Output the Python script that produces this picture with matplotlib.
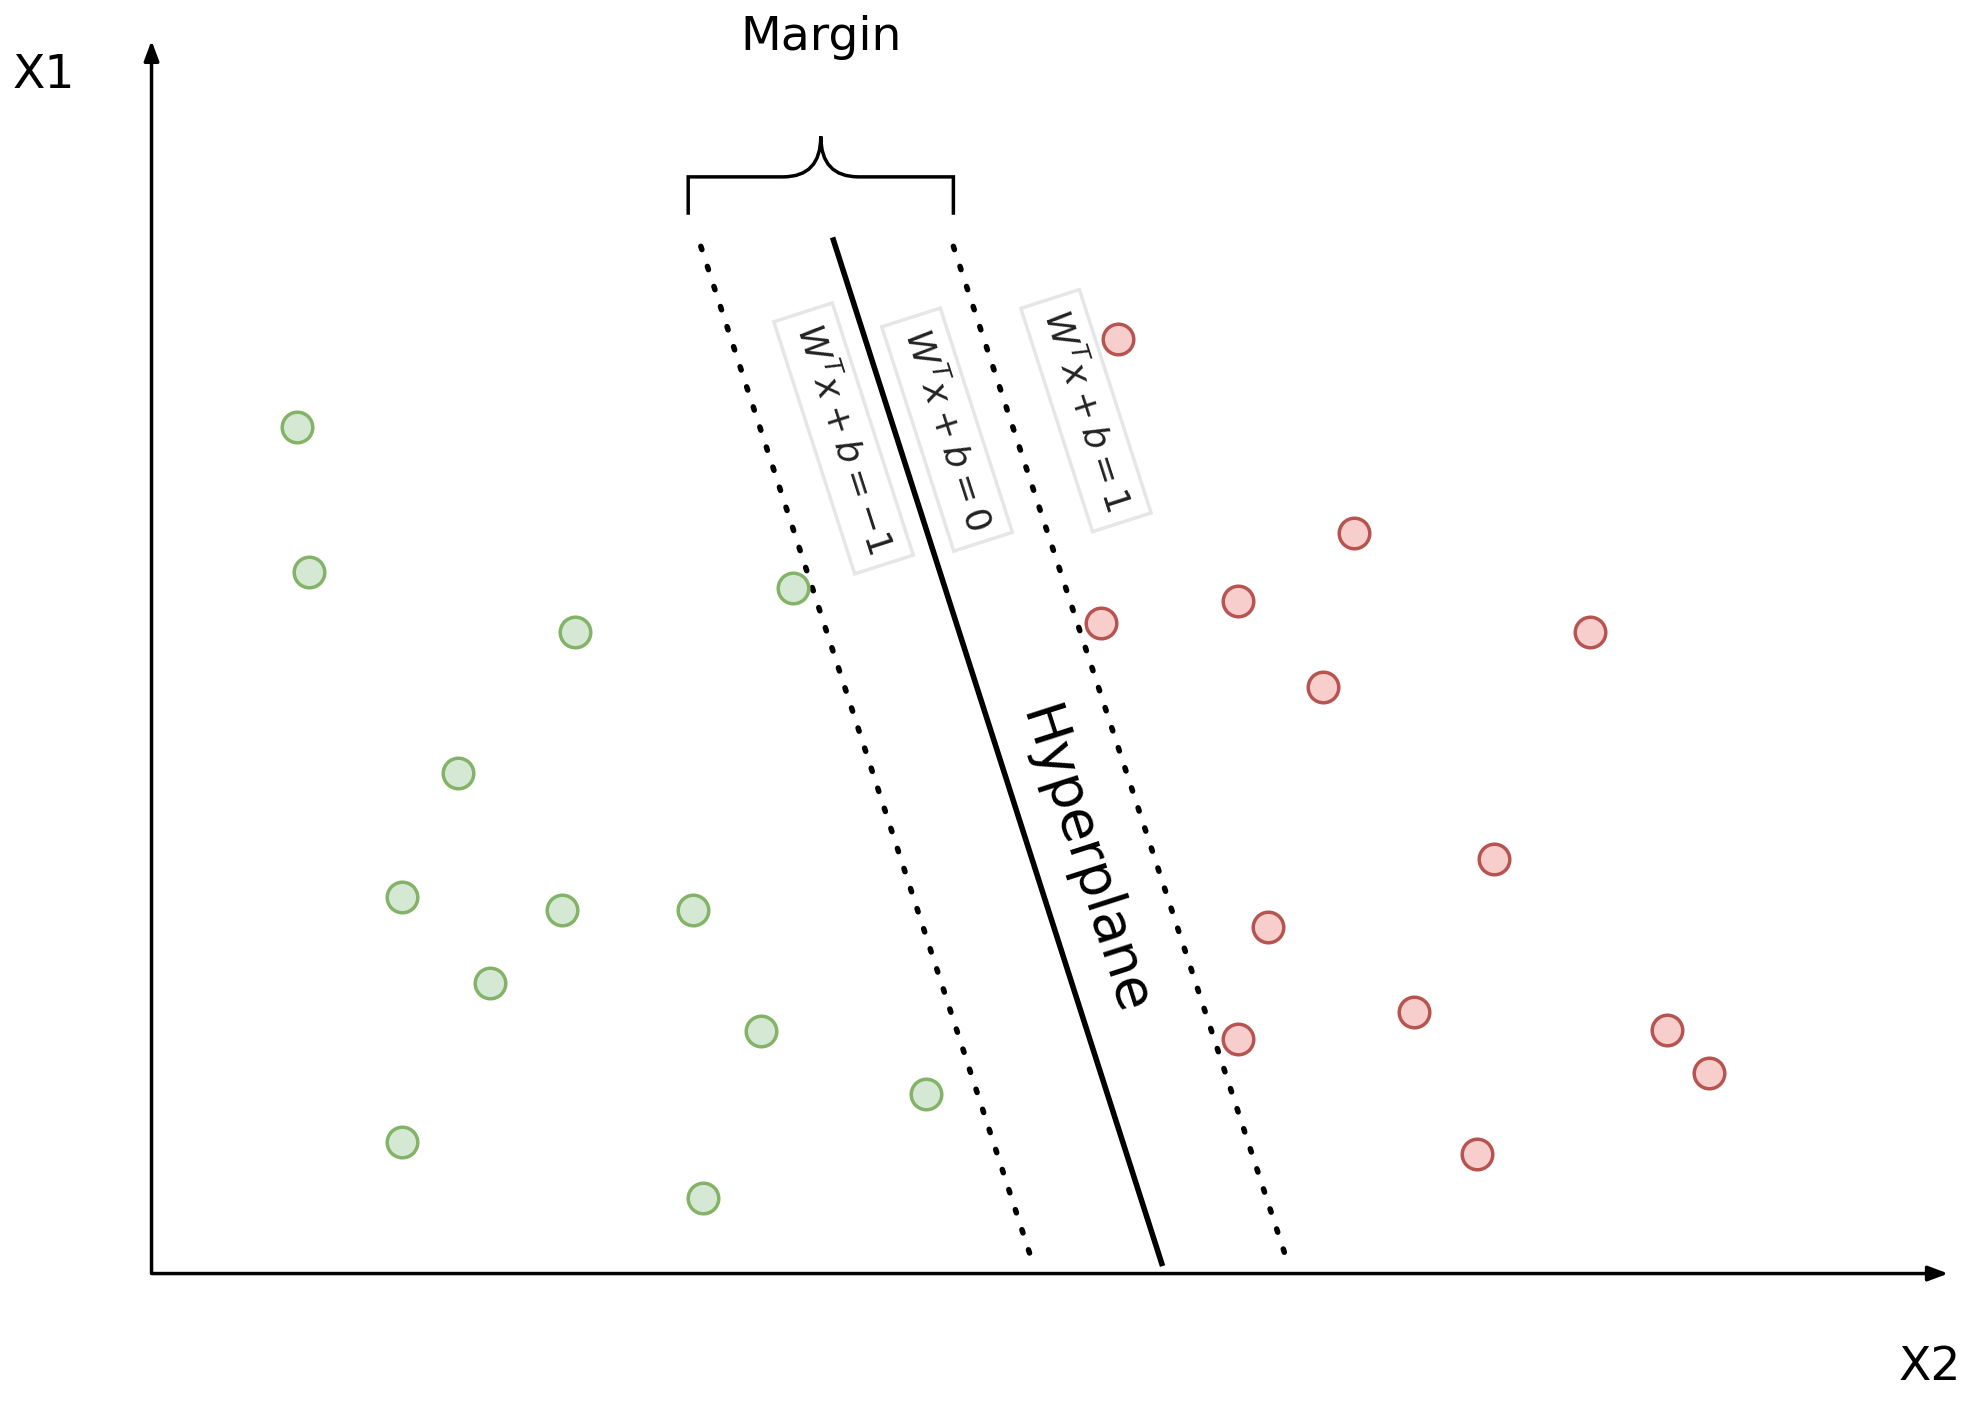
"""SVM margin diagram."""

import matplotlib.pyplot as plt
from matplotlib.path import Path
from matplotlib.patches import PathPatch

# point coordinates (pixel space, y downwards)
green_x = [235, 245, 455, 628, 363, 318, 445, 549, 388, 603, 733, 318, 557]
green_y = [338, 453, 500, 465, 612, 710, 720, 720, 778, 816, 866, 904, 948]
red_x = [885, 1072, 872, 980, 1048, 1259, 1183, 1004, 1120, 980, 1320, 1353, 1170]
red_y = [268, 422, 493, 476, 544, 500, 680, 734, 801, 822, 815, 849, 913]

# margin lines: (x_top, y_top, x_bottom, y_bottom)
lower_line = (555, 195, 818, 1000)
hyper_line = (660, 190, 920, 1000)
upper_line = (755, 195, 1020, 1000)
eq_labels = ["$W^T x + b = -1$", "$W^T x + b = 0$", "$W^T x + b = 1$"]
eq_pos = [(668, 347), (750, 340), (860, 325)]

fig = plt.figure(figsize=(19.8, 14.1), dpi=100)
ax = fig.add_axes([0, 0, 1, 1])
ax.set_xlim(0, 1568)
ax.set_ylim(1116, 0)
ax.axis("off")

arrow = dict(arrowstyle="-|>,head_length=1.2,head_width=0.45", lw=2.5, color="black")
ax.annotate("", xy=(120, 30), xytext=(120, 1010), arrowprops=arrow)
ax.annotate("", xy=(1545, 1008), xytext=(118, 1008), arrowprops=arrow)
ax.text(35, 60, "X1", fontsize=34, ha="center", va="center")
ax.text(1528, 1082, "X2", fontsize=34, ha="center", va="center")

for x0, y0, x1, y1 in (lower_line, upper_line):
    ax.plot([x0, x1], [y0, y1], color="black", lw=4, ls=(0, (0.6, 3.2)),
            dash_capstyle="round")
x0, y0, x1, y1 = hyper_line
ax.plot([x0, x1], [y0, y1], color="black", lw=4)

rot = -72.2
for label, (x, y) in zip(eq_labels, eq_pos):
    ax.text(x, y, label, fontsize=26, rotation=rot, ha="center", va="center",
            rotation_mode="anchor", color="#222222",
            bbox=dict(boxstyle="square,pad=0.35", fc="white", ec="#e6e6e6", lw=2.5))
ax.text(858, 682, "Hyperplane", fontsize=40, rotation=rot, ha="center",
        va="center", rotation_mode="anchor")

ax.plot(green_x, green_y, "o", ms=22, mfc="#d5e8d4", mec="#82b366", mew=2.5)
ax.plot(red_x, red_y, "o", ms=22, mfc="#f8cecc", mec="#b85450", mew=2.5)

# curly brace over the margin
verts = [(545, 170), (545, 145), (545, 140), (570, 140),
         (625, 140), (650, 140), (650, 108),
         (650, 140), (675, 140), (730, 140),
         (755, 140), (755, 145), (755, 170)]
codes = [Path.MOVETO, Path.LINETO, Path.CURVE3, Path.CURVE3,
         Path.LINETO, Path.CURVE3, Path.CURVE3,
         Path.CURVE3, Path.CURVE3, Path.LINETO,
         Path.CURVE3, Path.CURVE3, Path.LINETO]
verts = [(545, 170), (545, 140), (545, 140), (575, 140),
         (620, 140), (650, 140), (650, 108),
         (650, 140), (680, 140), (725, 140),
         (755, 140), (755, 140), (755, 170)]
codes = [Path.MOVETO, Path.CURVE3, Path.CURVE3, Path.LINETO,
         Path.LINETO, Path.CURVE3, Path.CURVE3,
         Path.CURVE3, Path.CURVE3, Path.LINETO,
         Path.CURVE3, Path.CURVE3, Path.LINETO]
ax.add_patch(PathPatch(Path(verts, codes), fc="none", ec="black", lw=2.5))
ax.text(650, 30, "Margin", fontsize=34, ha="center", va="center")

fig.savefig("out.png", dpi=100)
